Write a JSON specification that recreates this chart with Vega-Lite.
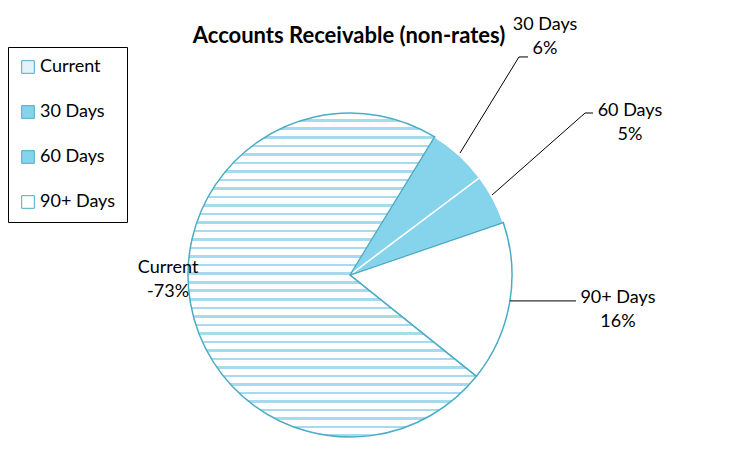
{
  "$schema": "https://vega.github.io/schema/vega-lite/v6.json",
  "width": 324,
  "height": 324,
  "autosize": {"type": "none"},
  "padding": {"left": 188, "top": 113, "right": 224, "bottom": 25},
  "background": "white",
  "config": {"view": {"stroke": null}, "font": "Lato"},
  "title": {"text": "Accounts Receivable (non-rates)", "font": "Lato", "fontSize": 22, "fontWeight": "bold", "color": "black", "anchor": "middle", "frame": "group", "baseline": "alphabetic", "offset": -49, "dx": -1},
  "datasets": {
    "slices": [
      {"cat": "30 Days", "value": 6, "ord": 1},
      {"cat": "60 Days", "value": 5, "ord": 2},
      {"cat": "90+ Days", "value": 16, "ord": 3},
      {"cat": "Current", "value": 73, "ord": 4}
    ],
    "labels": [
      {"cat": "30 Days", "label": "30 Days\n6%", "u": 1.204, "v": 1.543},
      {"cat": "60 Days", "label": "60 Days\n5%", "u": 1.728, "v": 1.01},
      {"cat": "90+ Days", "label": "90+ Days\n16%", "u": 1.654, "v": -0.139},
      {"cat": "Current", "label": "Current\n-73%", "u": -1.123, "v": 0.043}
    ],
    "leaders": [
      {"cat": "30 Days", "u": 0.679, "v": 0.753, "u2": 1.043, "v2": 1.346},
      {"cat": "30 Days", "u": 1.043, "v": 1.346, "u2": 1.099, "v2": 1.346},
      {"cat": "60 Days", "u": 0.877, "v": 0.494, "u2": 1.451, "v2": 1.0},
      {"cat": "60 Days", "u": 1.451, "v": 1.0, "u2": 1.5, "v2": 1.0},
      {"cat": "90+ Days", "u": 0.988, "v": -0.16, "u2": 1.395, "v2": -0.16}
    ]
  },
  "layer": [
    {
      "data": {"name": "slices"},
      "mark": {"type": "arc", "strokeWidth": 1.5},
      "encoding": {
        "theta": {"field": "value", "type": "quantitative", "stack": true, "scale": {"range": [0.55, 6.8332]}},
        "order": {"field": "ord", "type": "quantitative"},
        "color": {
          "condition": {
            "test": "datum.cat === 'Current'",
            "value": {
              "gradient": "linear", "x1": 0, "y1": 0, "x2": 0, "y2": 1,
              "stops": [
                {"offset": 0, "color": "white"}, {"offset": 0.01842, "color": "white"}, {"offset": 0.01842, "color": "#a6dbed"}, {"offset": 0.02632, "color": "#a6dbed"},
                {"offset": 0.02632, "color": "white"}, {"offset": 0.04474, "color": "white"}, {"offset": 0.04474, "color": "#a6dbed"}, {"offset": 0.05263, "color": "#a6dbed"},
                {"offset": 0.05263, "color": "white"}, {"offset": 0.07105, "color": "white"}, {"offset": 0.07105, "color": "#a6dbed"}, {"offset": 0.07895, "color": "#a6dbed"},
                {"offset": 0.07895, "color": "white"}, {"offset": 0.09737, "color": "white"}, {"offset": 0.09737, "color": "#a6dbed"}, {"offset": 0.10526, "color": "#a6dbed"},
                {"offset": 0.10526, "color": "white"}, {"offset": 0.12368, "color": "white"}, {"offset": 0.12368, "color": "#a6dbed"}, {"offset": 0.13158, "color": "#a6dbed"},
                {"offset": 0.13158, "color": "white"}, {"offset": 0.15, "color": "white"}, {"offset": 0.15, "color": "#a6dbed"}, {"offset": 0.15789, "color": "#a6dbed"},
                {"offset": 0.15789, "color": "white"}, {"offset": 0.17632, "color": "white"}, {"offset": 0.17632, "color": "#a6dbed"}, {"offset": 0.18421, "color": "#a6dbed"},
                {"offset": 0.18421, "color": "white"}, {"offset": 0.20263, "color": "white"}, {"offset": 0.20263, "color": "#a6dbed"}, {"offset": 0.21053, "color": "#a6dbed"},
                {"offset": 0.21053, "color": "white"}, {"offset": 0.22895, "color": "white"}, {"offset": 0.22895, "color": "#a6dbed"}, {"offset": 0.23684, "color": "#a6dbed"},
                {"offset": 0.23684, "color": "white"}, {"offset": 0.25526, "color": "white"}, {"offset": 0.25526, "color": "#a6dbed"}, {"offset": 0.26316, "color": "#a6dbed"},
                {"offset": 0.26316, "color": "white"}, {"offset": 0.28158, "color": "white"}, {"offset": 0.28158, "color": "#a6dbed"}, {"offset": 0.28947, "color": "#a6dbed"},
                {"offset": 0.28947, "color": "white"}, {"offset": 0.30789, "color": "white"}, {"offset": 0.30789, "color": "#a6dbed"}, {"offset": 0.31579, "color": "#a6dbed"},
                {"offset": 0.31579, "color": "white"}, {"offset": 0.33421, "color": "white"}, {"offset": 0.33421, "color": "#a6dbed"}, {"offset": 0.34211, "color": "#a6dbed"},
                {"offset": 0.34211, "color": "white"}, {"offset": 0.36053, "color": "white"}, {"offset": 0.36053, "color": "#a6dbed"}, {"offset": 0.36842, "color": "#a6dbed"},
                {"offset": 0.36842, "color": "white"}, {"offset": 0.38684, "color": "white"}, {"offset": 0.38684, "color": "#a6dbed"}, {"offset": 0.39474, "color": "#a6dbed"},
                {"offset": 0.39474, "color": "white"}, {"offset": 0.41316, "color": "white"}, {"offset": 0.41316, "color": "#a6dbed"}, {"offset": 0.42105, "color": "#a6dbed"},
                {"offset": 0.42105, "color": "white"}, {"offset": 0.43947, "color": "white"}, {"offset": 0.43947, "color": "#a6dbed"}, {"offset": 0.44737, "color": "#a6dbed"},
                {"offset": 0.44737, "color": "white"}, {"offset": 0.46579, "color": "white"}, {"offset": 0.46579, "color": "#a6dbed"}, {"offset": 0.47368, "color": "#a6dbed"},
                {"offset": 0.47368, "color": "white"}, {"offset": 0.49211, "color": "white"}, {"offset": 0.49211, "color": "#a6dbed"}, {"offset": 0.5, "color": "#a6dbed"},
                {"offset": 0.5, "color": "white"}, {"offset": 0.51842, "color": "white"}, {"offset": 0.51842, "color": "#a6dbed"}, {"offset": 0.52632, "color": "#a6dbed"},
                {"offset": 0.52632, "color": "white"}, {"offset": 0.54474, "color": "white"}, {"offset": 0.54474, "color": "#a6dbed"}, {"offset": 0.55263, "color": "#a6dbed"},
                {"offset": 0.55263, "color": "white"}, {"offset": 0.57105, "color": "white"}, {"offset": 0.57105, "color": "#a6dbed"}, {"offset": 0.57895, "color": "#a6dbed"},
                {"offset": 0.57895, "color": "white"}, {"offset": 0.59737, "color": "white"}, {"offset": 0.59737, "color": "#a6dbed"}, {"offset": 0.60526, "color": "#a6dbed"},
                {"offset": 0.60526, "color": "white"}, {"offset": 0.62368, "color": "white"}, {"offset": 0.62368, "color": "#a6dbed"}, {"offset": 0.63158, "color": "#a6dbed"},
                {"offset": 0.63158, "color": "white"}, {"offset": 0.65, "color": "white"}, {"offset": 0.65, "color": "#a6dbed"}, {"offset": 0.65789, "color": "#a6dbed"},
                {"offset": 0.65789, "color": "white"}, {"offset": 0.67632, "color": "white"}, {"offset": 0.67632, "color": "#a6dbed"}, {"offset": 0.68421, "color": "#a6dbed"},
                {"offset": 0.68421, "color": "white"}, {"offset": 0.70263, "color": "white"}, {"offset": 0.70263, "color": "#a6dbed"}, {"offset": 0.71053, "color": "#a6dbed"},
                {"offset": 0.71053, "color": "white"}, {"offset": 0.72895, "color": "white"}, {"offset": 0.72895, "color": "#a6dbed"}, {"offset": 0.73684, "color": "#a6dbed"},
                {"offset": 0.73684, "color": "white"}, {"offset": 0.75526, "color": "white"}, {"offset": 0.75526, "color": "#a6dbed"}, {"offset": 0.76316, "color": "#a6dbed"},
                {"offset": 0.76316, "color": "white"}, {"offset": 0.78158, "color": "white"}, {"offset": 0.78158, "color": "#a6dbed"}, {"offset": 0.78947, "color": "#a6dbed"},
                {"offset": 0.78947, "color": "white"}, {"offset": 0.80789, "color": "white"}, {"offset": 0.80789, "color": "#a6dbed"}, {"offset": 0.81579, "color": "#a6dbed"},
                {"offset": 0.81579, "color": "white"}, {"offset": 0.83421, "color": "white"}, {"offset": 0.83421, "color": "#a6dbed"}, {"offset": 0.84211, "color": "#a6dbed"},
                {"offset": 0.84211, "color": "white"}, {"offset": 0.86053, "color": "white"}, {"offset": 0.86053, "color": "#a6dbed"}, {"offset": 0.86842, "color": "#a6dbed"},
                {"offset": 0.86842, "color": "white"}, {"offset": 0.88684, "color": "white"}, {"offset": 0.88684, "color": "#a6dbed"}, {"offset": 0.89474, "color": "#a6dbed"},
                {"offset": 0.89474, "color": "white"}, {"offset": 0.91316, "color": "white"}, {"offset": 0.91316, "color": "#a6dbed"}, {"offset": 0.92105, "color": "#a6dbed"},
                {"offset": 0.92105, "color": "white"}, {"offset": 0.93947, "color": "white"}, {"offset": 0.93947, "color": "#a6dbed"}, {"offset": 0.94737, "color": "#a6dbed"},
                {"offset": 0.94737, "color": "white"}, {"offset": 0.96579, "color": "white"}, {"offset": 0.96579, "color": "#a6dbed"}, {"offset": 0.97368, "color": "#a6dbed"},
                {"offset": 0.97368, "color": "white"}, {"offset": 0.99211, "color": "white"}, {"offset": 0.99211, "color": "#a6dbed"}, {"offset": 1, "color": "#a6dbed"}
              ]
            }
          },
          "field": "cat",
          "type": "nominal",
          "scale": {"domain": ["Current", "30 Days", "60 Days", "90+ Days"], "range": ["#e4f3f9", "#86d3ec", "#86d3ec", "#ffffff"]},
          "legend": {
            "title": null,
            "orient": "none",
            "legendX": -180,
            "legendY": -66,
            "direction": "vertical",
            "symbolType": "square",
            "symbolSize": 160,
            "symbolStrokeColor": "#4bacc6",
            "symbolStrokeWidth": 1,
            "labelFont": "Lato",
            "labelFontSize": 18,
            "labelColor": "black",
            "labelOffset": 3,
            "rowPadding": 27,
            "padding": 11,
            "strokeColor": "black",
            "fillColor": "white",
            "cornerRadius": 0
          }
        },
        "stroke": {
          "condition": {"test": "datum.cat === '30 Days' || datum.cat === '60 Days'", "value": "white"},
          "value": "#4bacc6"
        }
      }
    },
    {
      "data": {"name": "leaders"},
      "mark": {"type": "rule", "color": "black", "strokeWidth": 1},
      "encoding": {
        "x": {"field": "u", "type": "quantitative", "scale": {"domain": [-1, 1], "nice": false, "zero": false}, "axis": null},
        "y": {"field": "v", "type": "quantitative", "scale": {"domain": [-1, 1], "nice": false, "zero": false}, "axis": null},
        "x2": {"field": "u2"},
        "y2": {"field": "v2"}
      }
    },
    {
      "data": {"name": "labels"},
      "mark": {"type": "text", "font": "Lato", "fontSize": 18, "lineBreak": "\n", "lineHeight": 24, "align": "center", "baseline": "middle", "color": "black"},
      "encoding": {
        "x": {"field": "u", "type": "quantitative", "scale": {"domain": [-1, 1], "nice": false, "zero": false}, "axis": null},
        "y": {"field": "v", "type": "quantitative", "scale": {"domain": [-1, 1], "nice": false, "zero": false}, "axis": null},
        "text": {"field": "label"}
      }
    }
  ]
}
